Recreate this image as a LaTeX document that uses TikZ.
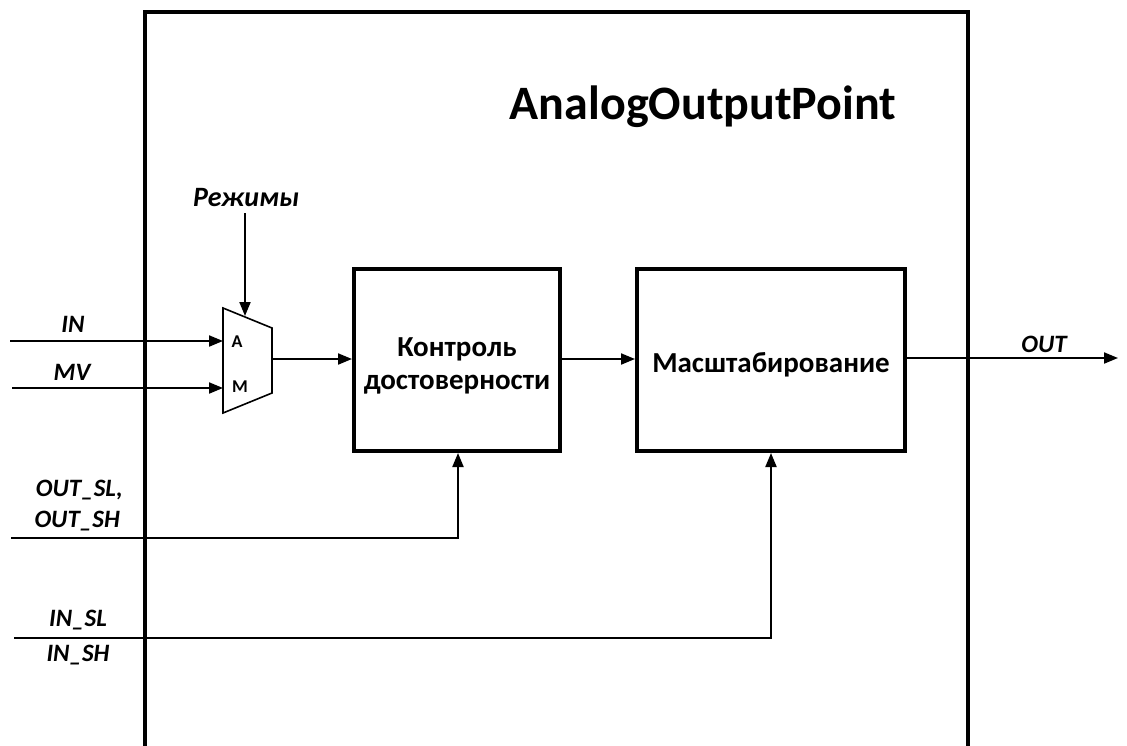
\documentclass[tikz,border=0pt]{standalone}
\usepackage{fontspec}
\setmainfont{Carlito}
\usetikzlibrary{arrows.meta}
\tikzset{
  frame/.style={line width=4pt},
  blk/.style={draw, line width=4pt, minimum height=182pt, inner sep=0pt, align=center, font=\fontsize{29}{33}\selectfont\bfseries},
  sig/.style={line width=2pt},
  arr/.style={sig, -{Triangle[length=14pt, width=11pt]}},
  lbl/.style={font=\fontsize{25}{30}\selectfont\bfseries\itshape, inner sep=0pt},
  pin/.style={font=\fontsize{18}{21}\selectfont\bfseries, inner sep=0pt}
}
\begin{document}
\begin{tikzpicture}[x=1pt, y=-1pt]
\useasboundingbox (0,0) rectangle (1127,745);
% outer frame (open at the bottom)
\draw[frame] (145,760) -- (145,12) -- (968,12) -- (968,760);
\node[font=\fontsize{48}{56}\selectfont\bfseries, inner sep=0pt] (title) at (703,107) {AnalogOutputPoint};
% blocks
\node[blk, minimum width=206pt] (ctrl) at (457,360) {\rule{0pt}{30pt}Контроль\\достоверности};
\node[blk, minimum width=268pt] (scale) at (771,360) {\rule{0pt}{30pt}Масштабирование};
% mux
\coordinate (mtl) at (223,308);
\coordinate (mtr) at (272,328);
\coordinate (mbr) at (272,393);
\coordinate (mbl) at (223,413);
\draw[sig, line width=1.6pt] (mtl) -- (mtr) -- (mbr) -- (mbl) -- cycle;
\node[pin] (pa) at (237,342) {A};
\node[pin] (pm) at (240,387) {M};
\coordinate (mtop) at (245,316);
\coordinate (mout) at (272,359);
\coordinate (ina) at (223,341);
\coordinate (inm) at (223,388);
% Режимы
\node[font=\fontsize{28}{32}\selectfont\bfseries\itshape, inner sep=0pt] (rez) at (246,198) {Режимы};
\draw[arr] (rez.south -| mtop) ++(0,6) -- (mtop);
% inputs
\coordinate (inS) at (10,341);
\coordinate (mvS) at (12,388);
\draw[arr] (inS) -- (ina);
\draw[arr] (mvS) -- (inm);
\node[lbl] (inl) at (73,324) {IN};
\node[lbl] (mvl) at (72,372) {MV};
\draw[arr] (mout) -- (ctrl.west |- mout);
\draw[arr] (ctrl.east |- 0,359) -- (scale.west |- 0,359);
% output
\coordinate (outE) at (1118,358);
\draw[arr] (scale.east |- outE) -- (outE);
\node[lbl] (outl) at (1044,344) {OUT};
% OUT_SL / OUT_SH
\coordinate (oslS) at (11,538);
\coordinate (oslC) at (458,538);
\draw[arr] (oslS) -- (oslC) -- (oslC |- ctrl.south);
\node[lbl, anchor=east] (osl) at (123,490) {OUT\_SL,};
\node[lbl, anchor=east] (osh) at (120,521) {OUT\_SH};
% IN_SL / IN_SH
\coordinate (islS) at (14,638);
\coordinate (islC) at (771,638);
\draw[arr] (islS) -- (islC) -- (islC |- scale.south);
\node[lbl] (isl) at (78,620) {IN\_SL};
\node[lbl] (ish) at (78,655) {IN\_SH};
\end{tikzpicture}
\end{document}
